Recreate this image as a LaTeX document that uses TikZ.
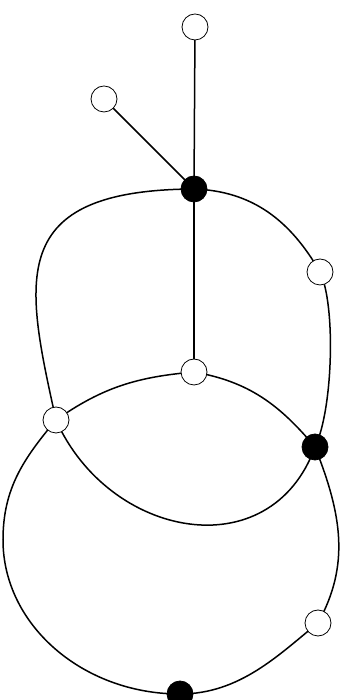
\documentclass[tikz,border=0pt]{standalone}
\usetikzlibrary{backgrounds}
\begin{document}
\begin{tikzpicture}[x=1pt,y=1pt,
  wnode/.style={circle,draw=black,fill=white,line width=0.8pt,minimum size=26pt,inner sep=0pt},
  bnode/.style={circle,draw=black,fill=black,line width=0.8pt,minimum size=26pt,inner sep=0pt},
  edge/.style={line width=1.5pt,draw=black}]
\useasboundingbox (0,0) rectangle (348,700);
\node[wnode] (tt) at (195,673) {};
\node[wnode] (tl) at (104,601) {};
\node[bnode] (bt) at (194,511) {};
\node[wnode] (wr) at (320,428) {};
\node[wnode] (wm) at (194,328) {};
\node[wnode] (wl) at (56,280) {};
\node[bnode] (br) at (315,253) {};
\node[wnode] (wb) at (318,77) {};
\node[bnode] (bb) at (180,6) {};
\coordinate (lm) at (3,160);
\begin{scope}[on background layer]
\draw[edge] (tt.center) -- (bt.center);
\draw[edge] (tl.center) -- (bt.center);
\draw[edge] (bt.center) -- (wm.center);
\draw[edge] (bt.center) .. controls (5,510) and (25,420) .. (wl.center);
\draw[edge] (bt.center) to[out=-2,in=120] (wr.center);
\draw[edge] (wr.center) .. controls (336,395) and (333,290) .. (br.center);
\draw[edge] (wl.center) .. controls (108.9,161.2) and (270.5,130.8) .. (br.center);
\draw[edge] (wl.center) to[out=35,in=185] (wm.center);
\draw[edge] (wm.center) to[out=-10,in=130] (br.center);
\draw[edge] (br.center) .. controls (342,185) and (350,135) .. (wb.center);
\draw[edge] (wb.center) .. controls (279,45.5) and (240,6) .. (bb.center);
\draw[edge] (bb.center) .. controls (82.6,6) and (3,75.3) .. (lm) to[out=90,in=230] (wl.center);
\end{scope}
\end{tikzpicture}
\end{document}
